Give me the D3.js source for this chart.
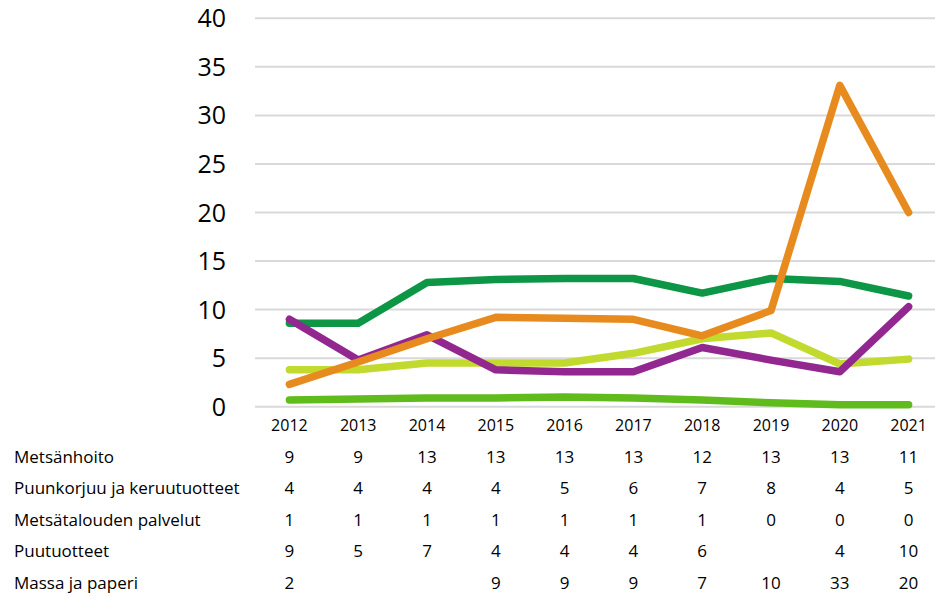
<!DOCTYPE html>
<html>
<head>
<meta charset="utf-8">
<script src="https://cdn.jsdelivr.net/npm/d3@7"></script>
<style>
  body { margin: 0; background: #fff; }
  text { font-family: "Open Sans", "Noto Sans", sans-serif; fill: #000; }
</style>
</head>
<body>
<svg id="chart" width="935" height="596"></svg>
<script>
// years along the x axis
var years = ["2012", "2013", "2014", "2015", "2016", "2017", "2018", "2019", "2020", "2021"];
var yTicks = [0, 5, 10, 15, 20, 25, 30, 35, 40];

// line values
var metsanhoito = [8.6, 8.6, 12.8, 13.1, 13.2, 13.2, 11.7, 13.2, 12.9, 11.4];
var puunkorjuu = [3.8, 3.8, 4.5, 4.5, 4.5, 5.5, 7.0, 7.6, 4.4, 4.9];
var palvelut = [0.7, 0.8, 0.9, 0.9, 1.0, 0.9, 0.7, 0.4, 0.2, 0.2];
var puutuotteet = [9.0, 4.8, 7.4, 3.8, 3.6, 3.6, 6.1, 4.8, 3.6, 10.3];
var massa = [2.3, 4.6, 7.0, 9.2, 9.1, 9.0, 7.3, 9.9, 33.1, 20.0];

// data table under the chart (as printed, blanks kept)
var tableNames = ["Metsänhoito", "Puunkorjuu ja keruutuotteet", "Metsätalouden palvelut", "Puutuotteet", "Massa ja paperi"];
var tableMetsanhoito = ["9", "9", "13", "13", "13", "13", "12", "13", "13", "11"];
var tablePuunkorjuu = ["4", "4", "4", "4", "5", "6", "7", "8", "4", "5"];
var tablePalvelut = ["1", "1", "1", "1", "1", "1", "1", "0", "0", "0"];
var tablePuutuotteet = ["9", "5", "7", "4", "4", "4", "6", "", "4", "10"];
var tableMassa = ["2", "", "", "9", "9", "9", "7", "10", "33", "20"];

var seriesColors = ["#0c9646", "#c2d92e", "#60bb1c", "#922790", "#e88b1f"];

var svg = d3.select("#chart");

var x = d3.scaleBand().domain(years).range([255, 943]).padding(0);
var y = d3.scaleLinear().domain([0, 40]).range([406.7, 18.3]);

// gridlines
svg.append("g").selectAll("line")
  .data(yTicks)
  .enter().append("line")
  .attr("x1", 255).attr("x2", 935)
  .attr("y1", function(d) { return y(d); })
  .attr("y2", function(d) { return y(d); })
  .attr("stroke", "#d9d9d9")
  .attr("stroke-width", 2);

// y axis labels
svg.append("g").selectAll("text")
  .data(yTicks)
  .enter().append("text")
  .attr("x", 226)
  .attr("y", function(d) { return y(d); })
  .attr("dy", "0.36em")
  .attr("text-anchor", "end")
  .style("font-size", "25px")
  .text(function(d) { return d; });

// x axis labels
svg.append("g").selectAll("text")
  .data(years)
  .enter().append("text")
  .attr("x", function(d) { return x(d) + x.bandwidth() / 2; })
  .attr("y", 431)
  .attr("text-anchor", "middle")
  .style("font-size", "16px")
  .text(function(d) { return d; });

// lines
var line = d3.line()
  .x(function(d, i) { return x(years[i]) + x.bandwidth() / 2; })
  .y(function(d) { return y(d); });

var allSeries = [metsanhoito, puunkorjuu, palvelut, puutuotteet, massa];
svg.append("g").selectAll("path")
  .data(allSeries)
  .enter().append("path")
  .attr("d", line)
  .attr("fill", "none")
  .attr("stroke", function(d, i) { return seriesColors[i]; })
  .attr("stroke-width", 7.5)
  .attr("stroke-linejoin", "round")
  .attr("stroke-linecap", "round");

// data table
var tableRows = [tableMetsanhoito, tablePuunkorjuu, tablePalvelut, tablePuutuotteet, tableMassa];
var rowY = [463, 494, 526, 557, 589];

var rows = svg.append("g").selectAll("g")
  .data(tableRows)
  .enter().append("g");

rows.append("text")
  .attr("x", 14)
  .attr("y", function(d, i) { return rowY[i]; })
  .style("font-size", "17px")
  .text(function(d, i) { return tableNames[i]; });

rows.each(function(row, r) {
  d3.select(this).selectAll("text.v")
    .data(row)
    .enter().append("text")
    .attr("class", "v")
    .attr("x", function(d, i) { return x(years[i]) + x.bandwidth() / 2; })
    .attr("y", rowY[r])
    .attr("text-anchor", "middle")
    .style("font-size", "17px")
    .text(function(d) { return d; });
});
</script>
</body>
</html>
